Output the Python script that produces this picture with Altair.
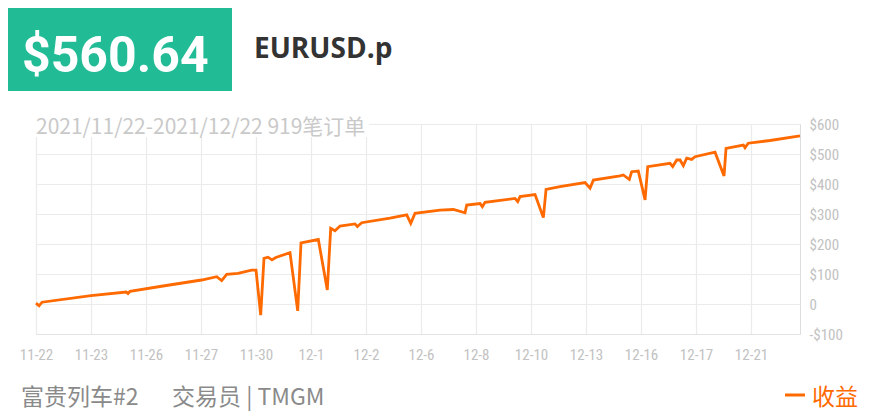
import altair as alt
import pandas as pd

# ---- data (x in tick-slot units: 0 = 11-22, 1 = 11-23, ...) ----
tick_labels = ["11-22", "11-23", "11-26", "11-27", "11-30", "12-1", "12-2",
               "12-6", "12-8", "12-10", "12-13", "12-16", "12-17", "12-21"]
x_pos = [0.0, 0.055, 0.11, 1.0, 1.64, 1.673, 1.71, 2.31, 3.01, 3.285, 3.376, 3.467,
         3.673, 3.92, 4.0, 4.085, 4.145, 4.218, 4.29, 4.36, 4.618, 4.758, 4.818,
         5.133, 5.296, 5.358, 5.436, 5.527, 5.8, 5.842, 5.922, 6.436, 6.74, 6.813,
         6.89, 7.345, 7.587, 7.8, 7.831, 8.073, 8.115, 8.164, 8.709, 8.758, 8.8,
         9.073, 9.224, 9.273, 9.527, 9.982, 10.073, 10.133, 10.618, 10.678, 10.787,
         10.83, 10.95, 11.073, 11.122, 11.527, 11.576, 11.649, 11.709, 11.769,
         11.83, 11.92, 11.982, 12.345, 12.509, 12.545, 12.86, 12.89, 12.95,
         13.345, 13.89]
profit = [3, -6, 6, 28, 40, 35, 42, 60, 80, 91, 78, 99,
          102, 113, 113, -37, 152, 156, 147, 155, 171, -23, 204,
          215, 47, 252, 244, 260, 267, 258, 271, 286, 297, 269,
          302, 313, 315, 304, 330, 335, 324, 339, 352, 341, 358,
          365, 288, 382, 391, 405, 386, 413, 427, 430, 415,
          441, 443, 347, 458, 469, 458, 480, 480, 461,
          486, 482, 491, 506, 427, 519, 530, 521, 536,
          545, 560.64]
y_ticks = [-100, 0, 100, 200, 300, 400, 500, 600]

total_text = "$560.64"
symbol_text = "EURUSD.p"
subtitle_text = "2021/11/22-2021/12/22 919笔订单"
footer_left = "富贵列车#2"
footer_mid = "交易员 | TMGM"
legend_text = "收益"

df = pd.DataFrame({"x": x_pos, "profit": profit})

ORANGE = "#ff6a00"
GREEN = "#21bc96"
AXFONT = "'Liberation Sans Narrow', 'Roboto Condensed', Roboto, sans-serif"
CJK = "'Noto Sans CJK SC', sans-serif"

label_expr_x = "[" + ",".join(f"'{t}'" for t in tick_labels) + "][datum.value]"
label_expr_y = ("datum.value == 0 ? '0' : (datum.value < 0 ? '-$' + abs(datum.value)"
                " : '$' + datum.value)")

line = alt.Chart(df).mark_line(color=ORANGE, strokeWidth=2.8).encode(
    x=alt.X("x:Q", scale=alt.Scale(domain=[0, 13.89], nice=False, zero=False),
            axis=alt.Axis(values=list(range(len(tick_labels))), labelExpr=label_expr_x,
                          title=None, grid=True, gridColor="#ebebeb", gridWidth=1.2,
                          domain=True, domainColor="#e3e3e3", domainWidth=1.2,
                          ticks=False, labelPadding=13, labelFont=AXFONT,
                          labelFontSize=15, labelColor="#c2c2c2", labelFlush=False)),
    y=alt.Y("profit:Q", scale=alt.Scale(domain=[-100, 600], nice=False),
            axis=alt.Axis(orient="right", values=y_ticks, labelExpr=label_expr_y,
                          title=None, grid=True, gridColor="#ebebeb", gridWidth=1.2,
                          domain=False, ticks=False, labelPadding=9, labelFont=AXFONT,
                          labelFontSize=15, labelColor="#c2c2c2", labelBaseline="middle")),
)

one = alt.Data(values=[{}])

box = alt.Chart(one).mark_rect(color=GREEN).encode(
    x=alt.value(-28), x2=alt.value(196), y=alt.value(-116), y2=alt.value(-33))
total = alt.Chart(one).mark_text(
    text=total_text, color="white", font="Roboto", fontWeight="bold", fontSize=50,
    align="left", baseline="alphabetic").encode(x=alt.value(-14), y=alt.value(-52))
symbol = alt.Chart(one).mark_text(
    text=symbol_text, color="#333333", font="'Open Sans', sans-serif", fontWeight="bold",
    fontSize=28, align="left", baseline="alphabetic").encode(x=alt.value(218), y=alt.value(-66))
sub_bg = alt.Chart(one).mark_rect(color="white").encode(
    x=alt.value(-1), x2=alt.value(333), y=alt.value(-12), y2=alt.value(13))
subtitle = alt.Chart(one).mark_text(
    text=subtitle_text, color="#c9c9c9", font=CJK, fontSize=21,
    align="left", baseline="alphabetic").encode(x=alt.value(0), y=alt.value(10))
foot1 = alt.Chart(one).mark_text(
    text=footer_left, color="#8a8a8a", font=CJK, fontSize=23,
    align="left", baseline="alphabetic").encode(x=alt.value(-15), y=alt.value(281))
foot2 = alt.Chart(one).mark_text(
    text=footer_mid, color="#8a8a8a", font=CJK, fontSize=23,
    align="left", baseline="alphabetic").encode(x=alt.value(136), y=alt.value(281))
leg_line = alt.Chart(one).mark_rule(color=ORANGE, strokeWidth=3).encode(
    x=alt.value(749), x2=alt.value(769), y=alt.value(271))
leg_text = alt.Chart(one).mark_text(
    text=legend_text, color=ORANGE, font=CJK, fontSize=23,
    align="left", baseline="alphabetic").encode(x=alt.value(776), y=alt.value(281))

chart = alt.layer(line, box, total, symbol, sub_bg, subtitle, foot1, foot2,
                  leg_line, leg_text).properties(
    width=764, height=210,
    autosize=alt.AutoSizeParams(type="none"),
    padding={"left": 28, "top": 116, "right": 72, "bottom": 77},
).configure_view(stroke=None).configure(background="white")

chart.save("out.html", embed_options={"renderer": "svg", "actions": False})
